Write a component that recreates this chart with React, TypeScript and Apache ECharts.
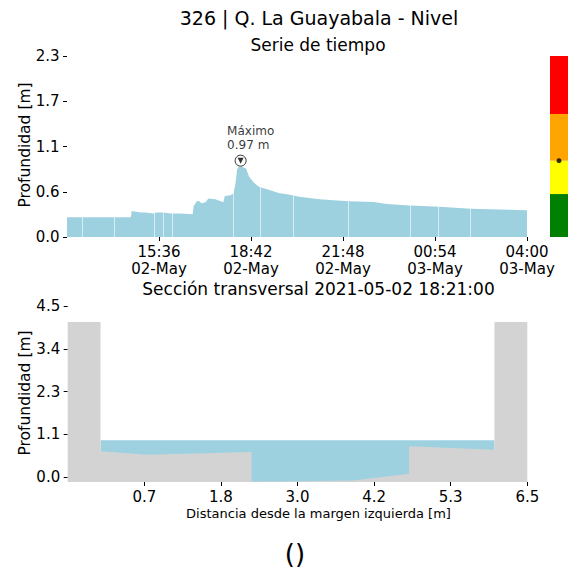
import React, { useEffect, useRef } from "react";
import * as echarts from "echarts";

// ---------- Data ----------
const levelTimes = [
  "2021-05-02 12:30", "2021-05-02 13:00", "2021-05-02 13:30", "2021-05-02 14:00", "2021-05-02 14:39",
  "2021-05-02 14:41", "2021-05-02 14:50", "2021-05-02 15:00", "2021-05-02 15:10", "2021-05-02 15:24",
  "2021-05-02 15:30", "2021-05-02 15:45", "2021-05-02 16:00", "2021-05-02 16:20", "2021-05-02 16:44",
  "2021-05-02 16:46", "2021-05-02 16:52", "2021-05-02 16:56", "2021-05-02 17:02", "2021-05-02 17:10",
  "2021-05-02 17:16", "2021-05-02 17:30", "2021-05-02 17:46", "2021-05-02 17:49", "2021-05-02 18:00",
  "2021-05-02 18:06", "2021-05-02 18:10", "2021-05-02 18:14", "2021-05-02 18:17", "2021-05-02 18:25",
  "2021-05-02 18:32", "2021-05-02 18:38", "2021-05-02 18:48", "2021-05-02 18:58", "2021-05-02 19:18",
  "2021-05-02 19:38", "2021-05-02 19:58", "2021-05-02 20:20", "2021-05-02 21:00", "2021-05-02 22:00",
  "2021-05-02 22:50", "2021-05-02 23:17", "2021-05-03 00:03", "2021-05-03 01:04", "2021-05-03 02:05",
  "2021-05-03 03:05", "2021-05-03 04:00",
];
const levelValues = [
  0.25, 0.25, 0.25, 0.25, 0.25,
  0.33, 0.32, 0.31, 0.31, 0.30,
  0.31, 0.31, 0.30, 0.30, 0.29,
  0.39, 0.45, 0.46, 0.43, 0.44,
  0.49, 0.48, 0.44, 0.52, 0.53,
  0.55, 0.65, 0.86, 0.89, 0.89,
  0.87, 0.77, 0.69, 0.64, 0.60,
  0.56, 0.54, 0.51, 0.48, 0.455,
  0.445, 0.42, 0.40, 0.385, 0.36,
  0.35, 0.34,
];
const seamTimes = [
  "2021-05-02 13:00", "2021-05-02 14:05", "2021-05-02 15:26", "2021-05-02 15:44", "2021-05-02 16:02",
  "2021-05-02 18:06", "2021-05-02 19:00", "2021-05-02 20:07", "2021-05-02 21:58", "2021-05-03 00:03",
  "2021-05-03 01:00", "2021-05-03 02:05",
];
const timeRange = ["2021-05-02 12:30", "2021-05-03 04:00"];
const timeTicks = ["2021-05-02 15:36", "2021-05-02 18:42", "2021-05-02 21:48", "2021-05-03 00:54", "2021-05-03 04:00"];
const levelTicks = [0, 0.575, 1.15, 1.725, 2.3];
const maxTime = "2021-05-02 18:21";
const maxValue = 0.97;
const maxLabel = "Máximo\n0.97 m";

// colour bar thresholds (upper bound of each band)
const bandTops = [0.546, 0.97, 1.563, 2.3];
const bandColors = ["#008000", "#ffff00", "#ffa500", "#ff0000"];

// cross section
const sectionX = [-0.5, 0.0, 0.0, 0.7, 2.3, 2.3, 3.0, 3.85, 4.7, 4.7, 6.0, 6.0, 6.5];
const sectionY = [4.08, 4.08, 0.68, 0.59, 0.66, -0.12, -0.11, -0.09, 0.09, 0.81, 0.72, 4.08, 4.08];
const waterX = [0.0, 6.0];
const waterLevel = 0.97;
const distTicks = [0.667, 1.833, 3.0, 4.167, 5.333, 6.5];
const depthTicks = [0, 1.125, 2.25, 3.375, 4.5];

// ---------- helpers ----------
const FONT = "DejaVu Sans";
const BLUE = "#9dd1e0";
const GRAY = "#d3d3d3";
const MONTHS = ["Jan", "Feb", "Mar", "Apr", "May", "Jun", "Jul", "Aug", "Sep", "Oct", "Nov", "Dec"];

function ts(s: string): number {
  const [d, t] = s.split(" ");
  const [Y, M, D] = d.split("-").map(Number);
  const [h, m] = t.split(":").map(Number);
  return Date.UTC(Y, M - 1, D, h, m);
}
const pad = (n: number) => (n < 10 ? "0" + n : "" + n);
function fmtTime(v: number): string {
  const d = new Date(v);
  return `${pad(d.getUTCHours())}:${pad(d.getUTCMinutes())}\n${pad(d.getUTCDate())}-${MONTHS[d.getUTCMonth()]}`;
}

export default function App() {
  const ref = useRef<HTMLDivElement>(null);
  useEffect(() => {
    if (!ref.current) return;
    const chart = echarts.init(ref.current, undefined, { renderer: "svg" });

    const tickStyle = { show: true, length: 4, inside: false, lineStyle: { color: "#000", width: 1 } };
    const labelBase = { color: "#000", fontFamily: FONT, fontSize: 15 };
    const noLine = { show: false, onZero: false };

    const bandSeries = bandTops.map((top, i) => ({
      type: "bar",
      xAxisIndex: 1,
      yAxisIndex: 1,
      stack: "bands",
      barWidth: "100%",
      barCategoryGap: 0,
      silent: true,
      itemStyle: { color: bandColors[i] },
      data: [+(top - (i === 0 ? 0 : bandTops[i - 1])).toFixed(4)],
    }));

    const text = (x: number, y: number, t: string, size: number, rotation = 0) => ({
      type: "text",
      x,
      y,
      rotation,
      style: { text: t, font: `${size}px '${FONT}'`, fill: "#000", textAlign: "center", textVerticalAlign: "middle" },
    });

    const option: any = {
      animation: false,
      backgroundColor: "#fff",
      textStyle: { fontFamily: FONT },
      grid: [
        { left: 67, top: 56, width: 460, height: 181 },
        { left: 550, top: 56, width: 18, height: 181 },
        { left: 67.7, top: 306, width: 459.6, height: 176 },
      ],
      xAxis: [
        {
          type: "value",
          gridIndex: 0,
          min: ts(timeRange[0]),
          max: ts(timeRange[1]),
          axisLine: noLine,
          splitLine: { show: false },
          axisTick: { ...tickStyle, customValues: timeTicks.map(ts) },
          axisLabel: {
            ...labelBase,
            customValues: timeTicks.map(ts),
            formatter: (v: number) => fmtTime(v),
            lineHeight: 17,
            margin: 6,
          },
        },
        { type: "category", gridIndex: 1, data: [""], show: false },
        {
          type: "value",
          gridIndex: 2,
          min: -0.5,
          max: 6.5,
          axisLine: noLine,
          splitLine: { show: false },
          axisTick: { ...tickStyle, customValues: distTicks },
          axisLabel: {
            ...labelBase,
            customValues: distTicks,
            formatter: (v: number) => v.toFixed(1),
            margin: 7,
          },
        },
      ],
      yAxis: [
        {
          type: "value",
          gridIndex: 0,
          min: 0,
          max: 2.3,
          axisLine: noLine,
          splitLine: { show: false },
          axisTick: { ...tickStyle, customValues: levelTicks },
          axisLabel: {
            ...labelBase,
            customValues: levelTicks,
            formatter: (v: number) => v.toFixed(1),
            margin: 7.5,
          },
        },
        { type: "value", gridIndex: 1, min: 0, max: 2.3, show: false },
        {
          type: "value",
          gridIndex: 2,
          min: -0.13,
          max: 4.5,
          axisLine: noLine,
          splitLine: { show: false },
          axisTick: { ...tickStyle, customValues: depthTicks },
          axisLabel: {
            ...labelBase,
            customValues: depthTicks,
            formatter: (v: number) => v.toFixed(1),
            margin: 7.5,
          },
        },
      ],
      series: [
        {
          type: "line",
          xAxisIndex: 0,
          yAxisIndex: 0,
          data: levelTimes.map((t, i) => [ts(t), levelValues[i]]),
          showSymbol: false,
          symbol: "none",
          lineStyle: { width: 0, color: BLUE },
          areaStyle: { color: BLUE, opacity: 1, origin: "start" },
          silent: true,
          markLine: {
            silent: true,
            symbol: "none",
            label: { show: false },
            lineStyle: { color: "#ffffff", width: 1, type: "solid", opacity: 0.6 },
            data: seamTimes.map((t) => ({ xAxis: ts(t) })),
          },
        },
        {
          type: "scatter",
          xAxisIndex: 0,
          yAxisIndex: 0,
          data: [[ts(maxTime), maxValue]],
          symbol: "circle",
          symbolSize: 11,
          itemStyle: { color: "#ffffff", borderColor: "#000", borderWidth: 1 },
          label: {
            show: true,
            formatter: maxLabel,
            position: [-7.5, -3],
            align: "left",
            verticalAlign: "bottom",
            color: "#000",
            fontFamily: FONT,
            fontSize: 12,
            lineHeight: 13.5,
          },
          z: 5,
        },
        {
          type: "scatter",
          xAxisIndex: 0,
          yAxisIndex: 0,
          data: [[ts(maxTime), maxValue]],
          symbol: "triangle",
          symbolRotate: 180,
          symbolSize: 6,
          itemStyle: { color: "#000" },
          z: 6,
        },
        ...bandSeries,
        {
          type: "scatter",
          xAxisIndex: 1,
          yAxisIndex: 1,
          data: [[0, maxValue]],
          symbol: "circle",
          symbolSize: 5,
          itemStyle: { color: "#000" },
          z: 5,
        },
        {
          type: "line",
          xAxisIndex: 2,
          yAxisIndex: 2,
          data: waterX.map((x) => [x, waterLevel]),
          symbol: "none",
          lineStyle: { width: 0, color: BLUE },
          areaStyle: { color: BLUE, opacity: 1, origin: "start" },
          silent: true,
        },
        {
          type: "line",
          xAxisIndex: 2,
          yAxisIndex: 2,
          data: sectionX.map((x, i) => [x, sectionY[i]]),
          symbol: "none",
          lineStyle: { width: 0, color: GRAY },
          areaStyle: { color: GRAY, opacity: 1, origin: "start" },
          silent: true,
        },
      ],
      graphic: [
        text(319, 17.5, "326 | Q. La Guayabala - Nivel", 19),
        text(318, 44.5, "Serie de tiempo", 17),
        text(318.5, 289, "Sección transversal 2021-05-02 18:21:00", 17),
        text(318.5, 513.3, "Distancia desde la margen izquierda [m]", 13),
        text(295, 554, "()", 26),
        text(25, 145, "Profundidad [m]", 15.5, Math.PI / 2),
        text(25, 393, "Profundidad [m]", 15.5, Math.PI / 2),
      ],
    };
    chart.setOption(option);
    return () => chart.dispose();
  }, []);
  return (
    <div
      ref={ref}
      style={{ position: "fixed", left: 0, top: 0, width: 568, height: 569, background: "#fff" }}
    />
  );
}
